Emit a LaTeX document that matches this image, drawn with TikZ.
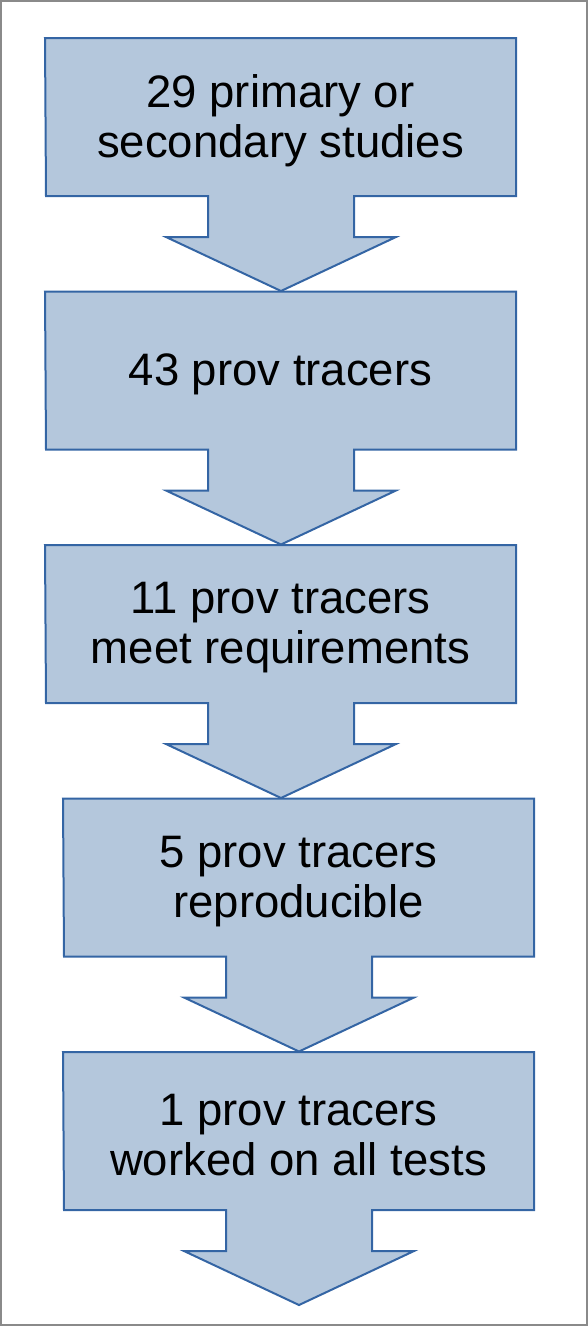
\documentclass[tikz,border=0pt]{standalone}
\usepackage{fontspec}
\setmainfont{Liberation Sans}
\definecolor{boxfill}{HTML}{B4C7DC}
\definecolor{boxline}{HTML}{3465A4}
\definecolor{frame}{HTML}{8A8A8A}
\newcommand{\flowarrowbox}[3]{% left, top, name
  \draw[arrowshape] (#1,#2) -- ++(471,0) -- ++(0,158) -- ++(-162,0) -- ++(0,41)
    -- ++(42,0) -- ++(-115,54) -- ++(-115,-54) -- ++(42,0) -- ++(0,-41)
    -- ++(-162,0) -- cycle;
  \coordinate (#3) at ({#1+235.5},{#2+83});
}
\begin{document}
\begin{tikzpicture}[x=1pt,y=-1pt,
  arrowshape/.style={fill=boxfill,draw=boxline,line width=2pt,line join=miter},
  label/.style={align=center,inner sep=0pt,font=\fontsize{45.5}{50}\selectfont,text=black}]
\useasboundingbox (0,0) rectangle (588,1326);
\draw[frame,line width=2pt] (1,1) rectangle (587,1325);
\flowarrowbox{45}{38}{c1}
\flowarrowbox{45}{291.5}{c2}
\flowarrowbox{45}{545}{c3}
\flowarrowbox{63}{798.5}{c4}
\flowarrowbox{63}{1052}{c5}
\node[label] (t1) at (c1) {29 primary or\\secondary studies};
\node[label] (t2) at (c2) {43 prov tracers};
\node[label] (t3) at (c3) {11 prov tracers\\meet requirements};
\node[label] (t4) at (c4) {5 prov tracers\\reproducible};
\node[label] (t5) at (c5) {1 prov tracers\\worked on all tests};
\end{tikzpicture}
\end{document}
